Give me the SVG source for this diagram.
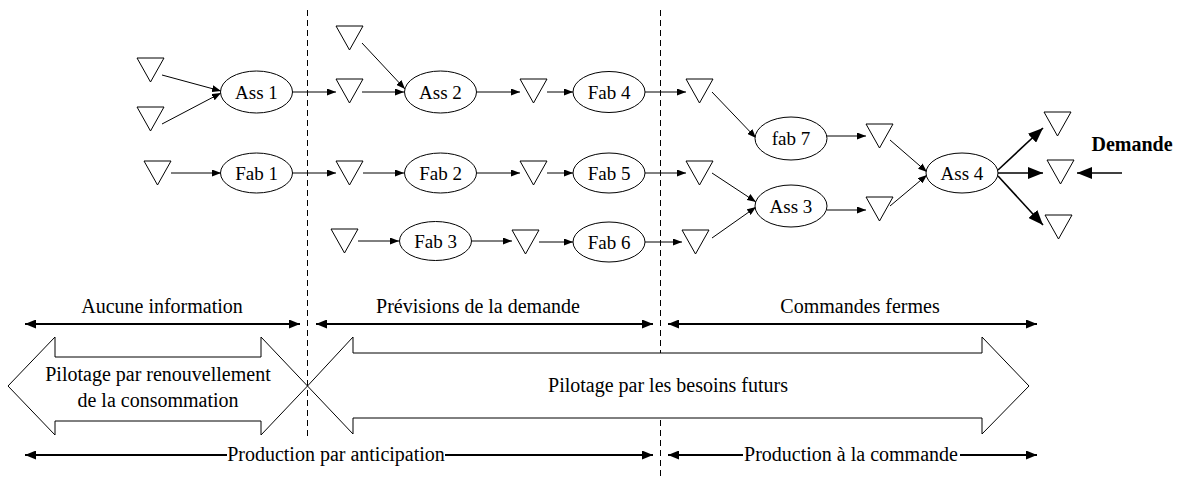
<svg xmlns="http://www.w3.org/2000/svg" width="1182" height="478" viewBox="0 0 1182 478">
<style>
.bg{fill:#fff}
.tri{fill:#fff;stroke:#000;stroke-width:1}
.node{fill:#fff;stroke:#000;stroke-width:1}
.lbl{font-family:"Liberation Serif","Times New Roman",serif;font-size:19px;fill:#000;text-anchor:middle}
.txt{font-family:"Liberation Serif","Times New Roman",serif;font-size:20px;fill:#000;text-anchor:middle}
.bold{font-weight:bold}
.c{fill:none;stroke:#000;stroke-width:1;marker-end:url(#ah)}
.cb{fill:none;stroke:#000;stroke-width:1.6;marker-end:url(#ahb)}
.span{fill:none;stroke:#000;stroke-width:2;marker-start:url(#aht);marker-end:url(#aht)}
.half{fill:none;stroke:#000;stroke-width:2;marker-end:url(#aht)}
.dash{fill:none;stroke:#000;stroke-width:1;stroke-dasharray:6 4}
.big{fill:#fff;stroke:#000;stroke-width:1}
</style>
<defs>
<marker id="ah" markerUnits="userSpaceOnUse" markerWidth="9" markerHeight="7" refX="9" refY="3.5" orient="auto"><path d="M0,0 L9,3.5 L0,7 z" fill="#000"/></marker>
<marker id="ahb" markerUnits="userSpaceOnUse" markerWidth="15" markerHeight="12" refX="15" refY="6" orient="auto"><path d="M0,0 L15,6 L0,12 z" fill="#000"/></marker>
<marker id="aht" markerUnits="userSpaceOnUse" markerWidth="11" markerHeight="9" refX="11" refY="4.5" orient="auto-start-reverse"><path d="M0,0 L11,4.5 L0,9 z" fill="#000"/></marker>
<polygon id="t" points="0,0 27,0 13.5,24"/>
</defs>
<rect class="bg" x="0" y="0" width="1182" height="478"/>

<g id="separators">
<line class="dash" x1="307.5" y1="10" x2="307.5" y2="440"/>
<line class="dash" x1="660.5" y1="10" x2="660.5" y2="477"/>
</g>

<g id="connectors">
<line class="c" x1="162" y1="75" x2="221" y2="91"/>
<line class="c" x1="162" y1="124" x2="221" y2="93"/>
<line class="c" x1="292" y1="92" x2="336" y2="92"/>
<line class="c" x1="362" y1="92" x2="404" y2="92"/>
<line class="c" x1="362" y1="43" x2="405" y2="89"/>
<line class="c" x1="477" y1="92" x2="520" y2="92"/>
<line class="c" x1="547" y1="92" x2="573" y2="92"/>
<line class="c" x1="645" y1="92" x2="686" y2="92"/>
<line class="c" x1="712" y1="92" x2="756" y2="138"/>
<line class="c" x1="827" y1="136" x2="866" y2="136"/>
<line class="c" x1="890" y1="140" x2="927" y2="172"/>
<line class="c" x1="171" y1="173" x2="221" y2="173"/>
<line class="c" x1="292" y1="173" x2="336" y2="173"/>
<line class="c" x1="363" y1="173" x2="404" y2="173"/>
<line class="c" x1="477" y1="173" x2="520" y2="173"/>
<line class="c" x1="547" y1="173" x2="573" y2="173"/>
<line class="c" x1="645" y1="173" x2="686" y2="173"/>
<line class="c" x1="712" y1="173" x2="756" y2="202"/>
<line class="c" x1="712" y1="238" x2="756" y2="207"/>
<line class="c" x1="827" y1="210" x2="866" y2="210"/>
<line class="c" x1="890" y1="206" x2="927" y2="175"/>
<line class="c" x1="358" y1="241" x2="399" y2="241"/>
<line class="c" x1="472" y1="241" x2="512" y2="241"/>
<line class="c" x1="539" y1="242" x2="573" y2="242"/>
<line class="c" x1="645" y1="242" x2="682" y2="242"/>
<line class="cb" x1="998" y1="170" x2="1043" y2="128"/>
<line class="cb" x1="998" y1="173" x2="1043" y2="173"/>
<line class="cb" x1="998" y1="176" x2="1043" y2="225"/>
<line class="cb" x1="1122" y1="173" x2="1077" y2="173"/>
</g>

<g id="stocks">
<use href="#t" class="tri" x="137" y="58"/>
<use href="#t" class="tri" x="137" y="107"/>
<use href="#t" class="tri" x="144" y="161"/>
<use href="#t" class="tri" x="336" y="26"/>
<use href="#t" class="tri" x="336" y="79"/>
<use href="#t" class="tri" x="336" y="161"/>
<use href="#t" class="tri" x="331" y="229"/>
<use href="#t" class="tri" x="520" y="79"/>
<use href="#t" class="tri" x="520" y="161"/>
<use href="#t" class="tri" x="512" y="230"/>
<use href="#t" class="tri" x="686" y="79"/>
<use href="#t" class="tri" x="686" y="161"/>
<use href="#t" class="tri" x="682" y="230"/>
<use href="#t" class="tri" x="866" y="124"/>
<use href="#t" class="tri" x="866" y="197"/>
<use href="#t" class="tri" x="1044" y="112"/>
<use href="#t" class="tri" x="1047" y="160"/>
<use href="#t" class="tri" x="1045" y="215"/>
</g>

<g id="ass1"><ellipse class="node" cx="256.5" cy="92" rx="36" ry="21"/><text class="lbl" x="256.5" y="98.5">Ass 1</text></g>
<g id="fab1"><ellipse class="node" cx="256.5" cy="173" rx="36" ry="20"/><text class="lbl" x="256.5" y="179.5">Fab 1</text></g>
<g id="ass2"><ellipse class="node" cx="440.5" cy="92" rx="36" ry="21"/><text class="lbl" x="440.5" y="98.5">Ass 2</text></g>
<g id="fab2"><ellipse class="node" cx="440.5" cy="173" rx="36" ry="20"/><text class="lbl" x="440.5" y="179.5">Fab 2</text></g>
<g id="fab3"><ellipse class="node" cx="435.5" cy="241" rx="36" ry="19.5"/><text class="lbl" x="435.5" y="247.5">Fab 3</text></g>
<g id="fab4"><ellipse class="node" cx="609" cy="92" rx="36" ry="20.5"/><text class="lbl" x="609" y="98.5">Fab 4</text></g>
<g id="fab5"><ellipse class="node" cx="609" cy="173" rx="36" ry="20"/><text class="lbl" x="609" y="179.5">Fab 5</text></g>
<g id="fab6"><ellipse class="node" cx="609" cy="242" rx="36" ry="20"/><text class="lbl" x="609" y="248.5">Fab 6</text></g>
<g id="fab7"><ellipse class="node" cx="791" cy="138.5" rx="36" ry="21.5"/><text class="lbl" x="791" y="145">fab 7</text></g>
<g id="ass3"><ellipse class="node" cx="791" cy="206" rx="36" ry="21"/><text class="lbl" x="791" y="212.5">Ass 3</text></g>
<g id="ass4"><ellipse class="node" cx="962" cy="173" rx="36" ry="20"/><text class="lbl" x="962" y="179.5">Ass 4</text></g>
<g id="demande"><text class="txt bold" x="1132" y="151">Demande</text></g>

<g id="info-spans">
<line class="span" x1="25" y1="324" x2="300" y2="324"/>
<line class="span" x1="316" y1="324" x2="653" y2="324"/>
<line class="span" x1="668" y1="324" x2="1037" y2="324"/>
<text class="txt" x="162" y="313">Aucune information</text>
<text class="txt" x="478" y="313">Prévisions de la demande</text>
<text class="txt" x="860" y="313">Commandes fermes</text>
</g>

<g id="pilotage-renouvellement">
<polygon class="big" points="8,386 55,337 55,357 261,357 261,337 307.5,386 261,435 261,421 55,421 55,435"/>
<text class="txt" x="158" y="381">Pilotage par renouvellement</text>
<text class="txt" x="158" y="407">de la consommation</text>
</g>
<g id="pilotage-besoins">
<polygon class="big" points="307.5,386 353,337 353,353 982,353 982,337 1029,386 982,434 982,418 353,418 353,434"/>
<text class="txt" x="668" y="392">Pilotage par les besoins futurs</text>
</g>

<g id="production-spans">
<line class="half" x1="227" y1="455" x2="25" y2="455"/>
<line class="half" x1="445" y1="455" x2="653" y2="455"/>
<text class="txt" x="336" y="461">Production par anticipation</text>
<line class="half" x1="743" y1="455" x2="668" y2="455"/>
<line class="half" x1="960" y1="455" x2="1037" y2="455"/>
<text class="txt" x="851" y="461">Production à la commande</text>
</g>
</svg>
